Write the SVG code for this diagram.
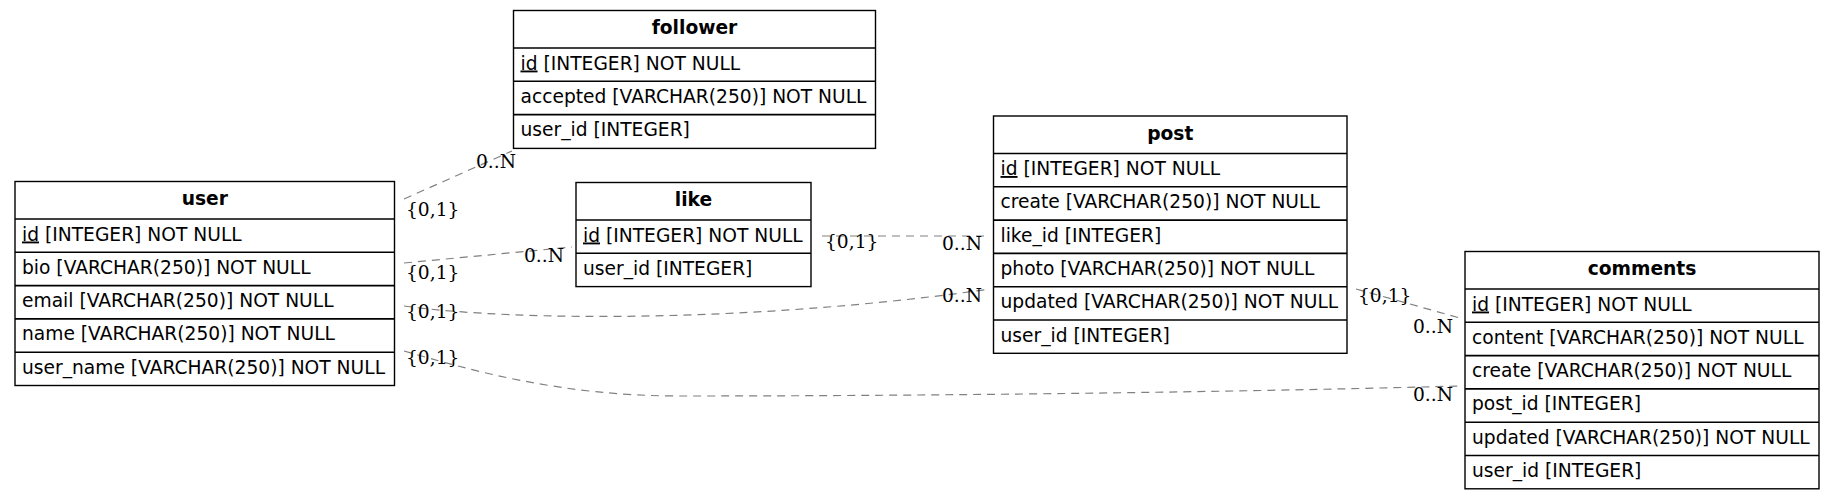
<svg xmlns="http://www.w3.org/2000/svg" width="1835" height="501" viewBox="0 0 1835 501">
<style>
.box{fill:#fff;stroke:#000;stroke-width:1.4}
.div{stroke:#000;stroke-width:1.6}
.hd{font-family:"DejaVu Sans",sans-serif;font-size:18.67px;font-weight:bold;text-anchor:middle;fill:#000}
.f{font-family:"DejaVu Sans",sans-serif;font-size:18.67px;fill:#000}
.pk{text-decoration:underline}
.e{fill:none;stroke:#808080;stroke-width:1.2;stroke-dasharray:8,6}
.lb{font-family:"DejaVu Serif",serif;font-size:18.67px;fill:#000}
</style>
<rect width="1835" height="501" fill="#fff"/>
<g id="connectors">
<path class="e" d="M404,199 L512,151"/>
<path class="e" d="M404,263 L572,247"/>
<path class="e" d="M822,236 L990,236"/>
<path class="e" d="M404,306 C520,322 760,322 990,289"/>
<path class="e" d="M1356,289 L1460,318"/>
<path class="e" d="M404,351 C470,370 560,396 680,396 C900,396 1200,393 1460,386"/>
<text class="lb" x="406" y="216">{0,1}</text>
<text class="lb" x="476" y="168">0..N</text>
<text class="lb" x="406" y="279">{0,1}</text>
<text class="lb" x="524" y="262">0..N</text>
<text class="lb" x="825" y="248">{0,1}</text>
<text class="lb" x="942" y="250">0..N</text>
<text class="lb" x="406" y="318">{0,1}</text>
<text class="lb" x="942" y="302">0..N</text>
<text class="lb" x="1358" y="302">{0,1}</text>
<text class="lb" x="1413" y="333">0..N</text>
<text class="lb" x="406" y="364">{0,1}</text>
<text class="lb" x="1413" y="401">0..N</text>
</g>
<g id="follower">
<rect class="box" x="513.5" y="10.5" width="362" height="137.9"/>
<line class="div" x1="513.5" y1="48" x2="875.5" y2="48"/>
<line class="div" x1="513.5" y1="81.3" x2="875.5" y2="81.3"/>
<line class="div" x1="513.5" y1="114.6" x2="875.5" y2="114.6"/>
<text class="hd" x="694.5" y="34">follower</text>
<text class="f" x="520.5" y="69.5"><tspan class="pk">id</tspan> [INTEGER] NOT NULL</text>
<text class="f" x="520.5" y="102.8">accepted [VARCHAR(250)] NOT NULL</text>
<text class="f" x="520.5" y="136.1">user_id [INTEGER]</text>
</g>
<g id="user">
<rect class="box" x="15" y="181.5" width="379.5" height="204"/>
<line class="div" x1="15" y1="219" x2="394.5" y2="219"/>
<line class="div" x1="15" y1="252.3" x2="394.5" y2="252.3"/>
<line class="div" x1="15" y1="285.6" x2="394.5" y2="285.6"/>
<line class="div" x1="15" y1="318.9" x2="394.5" y2="318.9"/>
<line class="div" x1="15" y1="352.2" x2="394.5" y2="352.2"/>
<text class="hd" x="204.75" y="205">user</text>
<text class="f" x="22" y="240.5"><tspan class="pk">id</tspan> [INTEGER] NOT NULL</text>
<text class="f" x="22" y="273.8">bio [VARCHAR(250)] NOT NULL</text>
<text class="f" x="22" y="307.1">email [VARCHAR(250)] NOT NULL</text>
<text class="f" x="22" y="340.4">name [VARCHAR(250)] NOT NULL</text>
<text class="f" x="22" y="373.7">user_name [VARCHAR(250)] NOT NULL</text>
</g>
<g id="like">
<rect class="box" x="576" y="182.5" width="235" height="104.1"/>
<line class="div" x1="576" y1="220" x2="811" y2="220"/>
<line class="div" x1="576" y1="253.3" x2="811" y2="253.3"/>
<text class="hd" x="693.5" y="206">like</text>
<text class="f" x="583" y="241.5"><tspan class="pk">id</tspan> [INTEGER] NOT NULL</text>
<text class="f" x="583" y="274.8">user_id [INTEGER]</text>
</g>
<g id="post">
<rect class="box" x="993.5" y="116" width="353.5" height="237.3"/>
<line class="div" x1="993.5" y1="153.5" x2="1347" y2="153.5"/>
<line class="div" x1="993.5" y1="186.8" x2="1347" y2="186.8"/>
<line class="div" x1="993.5" y1="220.1" x2="1347" y2="220.1"/>
<line class="div" x1="993.5" y1="253.4" x2="1347" y2="253.4"/>
<line class="div" x1="993.5" y1="286.7" x2="1347" y2="286.7"/>
<line class="div" x1="993.5" y1="320" x2="1347" y2="320"/>
<text class="hd" x="1170.25" y="139.5">post</text>
<text class="f" x="1000.5" y="175"><tspan class="pk">id</tspan> [INTEGER] NOT NULL</text>
<text class="f" x="1000.5" y="208.3">create [VARCHAR(250)] NOT NULL</text>
<text class="f" x="1000.5" y="241.6">like_id [INTEGER]</text>
<text class="f" x="1000.5" y="274.9">photo [VARCHAR(250)] NOT NULL</text>
<text class="f" x="1000.5" y="308.2">updated [VARCHAR(250)] NOT NULL</text>
<text class="f" x="1000.5" y="341.5">user_id [INTEGER]</text>
</g>
<g id="comments">
<rect class="box" x="1465" y="251.5" width="354" height="237.3"/>
<line class="div" x1="1465" y1="289" x2="1819" y2="289"/>
<line class="div" x1="1465" y1="322.3" x2="1819" y2="322.3"/>
<line class="div" x1="1465" y1="355.6" x2="1819" y2="355.6"/>
<line class="div" x1="1465" y1="388.9" x2="1819" y2="388.9"/>
<line class="div" x1="1465" y1="422.2" x2="1819" y2="422.2"/>
<line class="div" x1="1465" y1="455.5" x2="1819" y2="455.5"/>
<text class="hd" x="1642" y="275">comments</text>
<text class="f" x="1472" y="310.5"><tspan class="pk">id</tspan> [INTEGER] NOT NULL</text>
<text class="f" x="1472" y="343.8">content [VARCHAR(250)] NOT NULL</text>
<text class="f" x="1472" y="377.1">create [VARCHAR(250)] NOT NULL</text>
<text class="f" x="1472" y="410.4">post_id [INTEGER]</text>
<text class="f" x="1472" y="443.7">updated [VARCHAR(250)] NOT NULL</text>
<text class="f" x="1472" y="477">user_id [INTEGER]</text>
</g>
</svg>
